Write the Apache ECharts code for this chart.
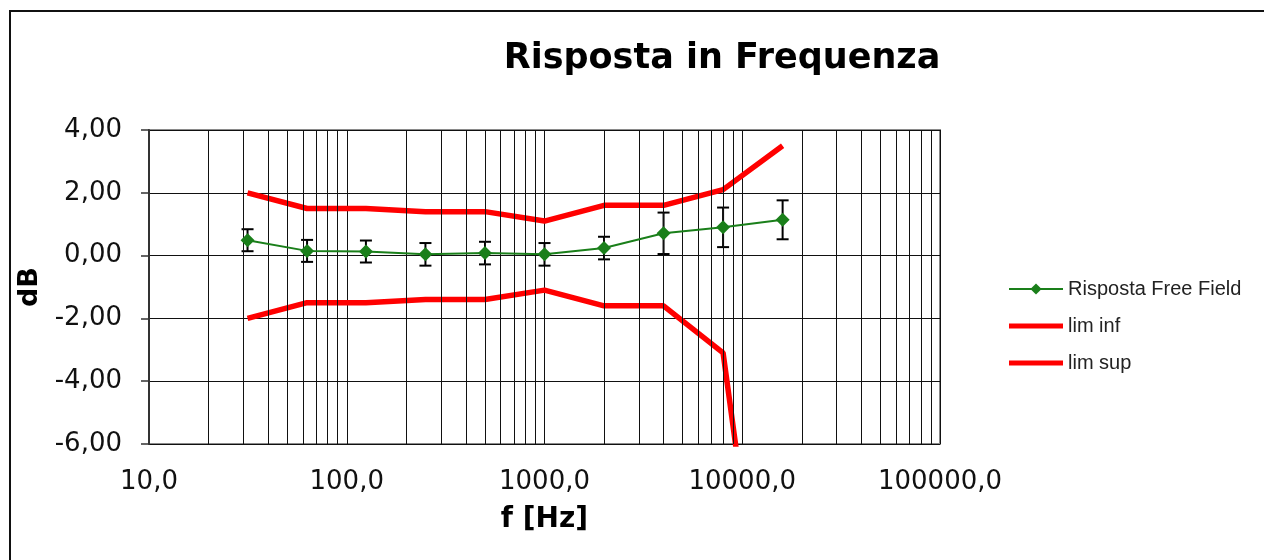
<!DOCTYPE html>
<html>
<head>
<meta charset="utf-8">
<script src="https://cdn.jsdelivr.net/npm/echarts@6/dist/echarts.min.js"></script>
<style>
  html, body { margin: 0; padding: 0; background: #fff; overflow: hidden; }
  #chart { width: 1264px; height: 560px; position: absolute; left: 0; top: 0; }
  #frame { position: absolute; left: 9px; top: 10px; width: 3000px; height: 3000px;
           border-top: 2px solid #111; border-left: 2px solid #111; pointer-events: none; }
</style>
</head>
<body>
<div id="chart"></div>
<div id="frame"></div>
<script>
// ---- data ----
const freqs = [31.5, 63, 125, 250, 500, 1000, 2000, 4000, 8000, 16000];
const response = [0.49, 0.15, 0.13, 0.04, 0.08, 0.04, 0.24, 0.71, 0.90, 1.14];
const responseErr = [0.35, 0.35, 0.35, 0.36, 0.36, 0.36, 0.36, 0.66, 0.63, 0.62];
const limInf = [-2.0, -1.5, -1.5, -1.4, -1.4, -1.1, -1.6, -1.6, -3.1, -17.0];
const limSup = [2.0, 1.5, 1.5, 1.4, 1.4, 1.1, 1.6, 1.6, 2.1, 3.5];
const minorGridMultipliers = [2, 3, 4, 5, 6, 7, 8, 9];
const decades = [10, 100, 1000, 10000];

const seriesNames = ['Risposta Free Field', 'lim inf', 'lim sup'];

const minorGrid = [];
decades.forEach(d => minorGridMultipliers.forEach(m => minorGrid.push(d * m)));

const pair = (xs, ys) => xs.map((x, i) => [x, ys[i]]);
const errData = freqs.map((f, i) => [f, response[i] - responseErr[i], response[i] + responseErr[i]]);

const fmtComma = (v, d) => v.toFixed(d).replace('.', ',');

// thick line legend icon (invisible degenerate sub-paths keep the full icon box)
const thickLineIcon = 'path://M0,0L0.01,0L0,0ZM0,14L0.01,14L0,14ZM0,4.4L54,4.4L54,9.6L0,9.6Z';

const chart = echarts.init(document.getElementById('chart'), null, { renderer: 'canvas' });

chart.setOption({
  backgroundColor: '#fff',
  animation: false,
  title: {
    text: 'Risposta in Frequenza',
    left: 717,
    top: 36,
    textAlign: 'center',
    textStyle: { fontFamily: 'DejaVu Sans', fontWeight: 'bold', fontSize: 35, color: '#000' }
  },
  legend: {
    orient: 'vertical',
    left: 1003,
    top: 274,
    itemWidth: 54,
    itemHeight: 14,
    itemGap: 17,
    symbolKeepAspect: false,
    data: [
      { name: seriesNames[0] },
      { name: seriesNames[1], icon: thickLineIcon },
      { name: seriesNames[2], icon: thickLineIcon }
    ],
    textStyle: { fontFamily: 'Liberation Sans', fontSize: 20, color: '#222' }
  },
  grid: {
    left: 149, right: 324, top: 130, bottom: 116,
    show: true, borderColor: '#8a8a8a', borderWidth: 2, containLabel: false
  },
  xAxis: {
    type: 'log',
    logBase: 10,
    min: 10,
    max: 100000,
    name: 'f [Hz]',
    nameLocation: 'middle',
    nameGap: 62,
    nameTextStyle: { fontFamily: 'DejaVu Sans', fontWeight: 'bold', fontSize: 28, color: '#000' },
    axisLine: { show: false },
    axisTick: { show: false },
    axisLabel: {
      margin: 25,
      fontFamily: 'DejaVu Sans', fontSize: 26, color: '#111',
      formatter: v => fmtComma(v, 1)
    },
    splitLine: { show: true, lineStyle: { color: '#111', width: 1 } }
  },
  yAxis: {
    type: 'value',
    min: -6,
    max: 4,
    interval: 2,
    name: 'dB',
    nameLocation: 'middle',
    nameGap: 96,
    nameRotate: 90,
    nameTextStyle: { fontFamily: 'DejaVu Sans', fontWeight: 'bold', fontSize: 27, color: '#000' },
    axisLine: { show: true, onZero: false, lineStyle: { color: '#333', width: 2 } },
    axisTick: { show: true, inside: false, length: 8, lineStyle: { color: '#333', width: 1.5 } },
    axisLabel: {
      margin: 27,
      fontFamily: 'DejaVu Sans', fontSize: 26, color: '#111',
      formatter: v => fmtComma(v, 2)
    },
    splitLine: { show: true, lineStyle: { color: '#111', width: 1 } }
  },
  series: [
    {
      name: 'minorGrid',
      type: 'line',
      data: [],
      silent: true,
      z: 1,
      markLine: {
        silent: true,
        symbol: ['none', 'none'],
        label: { show: false },
        lineStyle: { color: '#111', width: 1, type: 'solid' },
        data: minorGrid.map(v => ({ xAxis: v }))
      }
    },
    {
      name: seriesNames[1],
      type: 'line',
      data: pair(freqs, limInf),
      showSymbol: false,
      symbol: 'none',
      clip: true,
      z: 3,
      lineStyle: { color: '#ff0000', width: 5.5 },
      itemStyle: { color: '#ff0000' }
    },
    {
      name: seriesNames[2],
      type: 'line',
      data: pair(freqs, limSup),
      showSymbol: false,
      symbol: 'none',
      clip: true,
      z: 3,
      lineStyle: { color: '#ff0000', width: 5.5 },
      itemStyle: { color: '#ff0000' }
    },
    {
      name: 'errorBars',
      type: 'custom',
      data: errData,
      z: 4,
      silent: true,
      renderItem: function (params, api) {
        const x = api.value(0);
        const lo = api.coord([x, api.value(1)]);
        const hi = api.coord([x, api.value(2)]);
        const cw = 6;
        const st = { stroke: '#000', lineWidth: 2 };
        return {
          type: 'group',
          children: [
            { type: 'line', shape: { x1: lo[0], y1: lo[1], x2: hi[0], y2: hi[1] }, style: st },
            { type: 'line', shape: { x1: lo[0] - cw, y1: lo[1], x2: lo[0] + cw, y2: lo[1] }, style: st },
            { type: 'line', shape: { x1: hi[0] - cw, y1: hi[1], x2: hi[0] + cw, y2: hi[1] }, style: st }
          ]
        };
      }
    },
    {
      name: seriesNames[0],
      type: 'line',
      data: pair(freqs, response),
      symbol: 'diamond',
      symbolSize: 14,
      showSymbol: true,
      z: 5,
      lineStyle: { color: '#1a7f1a', width: 2 },
      itemStyle: { color: '#1a7f1a' }
    }
  ]
});
</script>
</body>
</html>
